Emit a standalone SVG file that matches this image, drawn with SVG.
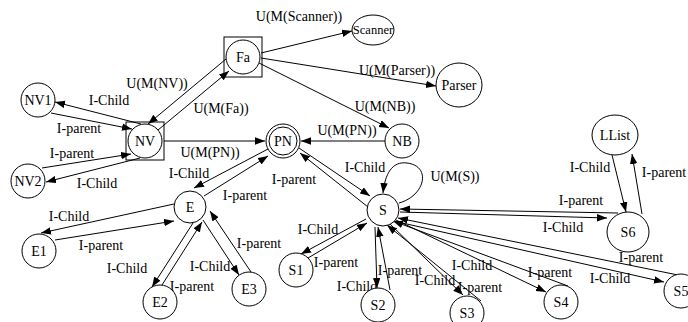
<svg xmlns="http://www.w3.org/2000/svg" width="688" height="322" viewBox="0 0 688 322" font-family="'Liberation Serif', 'DejaVu Serif', serif">
<defs>
<marker id="arr" markerWidth="10" markerHeight="8" refX="10" refY="3.75" orient="auto" markerUnits="userSpaceOnUse">
<path d="M0,0 L10,3.75 L0,7.5 z" fill="#000"/>
</marker>
<style>
.n{fill:#fff;stroke:#000;stroke-width:1}
.b{fill:none;stroke:#000;stroke-width:1}
.e{fill:none;stroke:#000;stroke-width:1;marker-end:url(#arr)}
text{font-family:'Liberation Serif','DejaVu Serif',serif;font-size:14px;fill:#000;text-anchor:middle}
</style>
</defs>
<rect width="688" height="322" fill="#fff"/>
<g id="connectors">
<path class="e" d="M226,59 L148,124"/>
<path class="e" d="M158,130 L229,71"/>
<path class="e" d="M261,53 L352,31"/>
<path class="e" d="M261,58 L436,86"/>
<path class="e" d="M259,63 L389,128"/>
<path class="e" d="M385,141 L301,141"/>
<path class="e" d="M164,141 L265,141"/>
<path class="e" d="M268,149 L194,188"/>
<path class="e" d="M204,196 L268,156"/>
<path class="e" d="M299,148 L370,196"/>
<path class="e" d="M368,207 L300,153"/>
<path class="e" d="M399,203 C425,196 432,166 407,163 C392,161 385,174 383,193"/>
<path class="e" d="M174,204 L41,233"/>
<path class="e" d="M55,240 L174,221"/>
<path class="e" d="M193,223 L152,287"/>
<path class="e" d="M162,285 L202,222"/>
<path class="e" d="M203,220 L239,275"/>
<path class="e" d="M251,272 L210,211"/>
<path class="e" d="M141,124 L55,102"/>
<path class="e" d="M51,113 L132,129"/>
<path class="e" d="M42,168 L131,154"/>
<path class="e" d="M140,158 L46,182"/>
<path class="e" d="M366,219 L301,254"/>
<path class="e" d="M308,258 L367,223"/>
<path class="e" d="M375,227 L377,288"/>
<path class="e" d="M390,290 L378,227"/>
<path class="e" d="M390,224 L463,295"/>
<path class="e" d="M481,301 L387,225"/>
<path class="e" d="M396,220 L546,292"/>
<path class="e" d="M568,286 L393,221"/>
<path class="e" d="M398,222 L664,282"/>
<path class="e" d="M678,275 L398,218"/>
<path class="e" d="M618,213 L400,209"/>
<path class="e" d="M400,212 L607,218"/>
<path class="e" d="M612,155 L626,212"/>
<path class="e" d="M642,214 L632,154"/>
</g>
<g id="labels">
<text x="157" y="88">U(M(NV))</text>
<text x="221" y="113">U(M(Fa))</text>
<text x="299" y="21">U(M(Scanner))</text>
<text x="397" y="75">U(M(Parser))</text>
<text x="385" y="111">U(M(NB))</text>
<text x="347" y="135">U(M(PN))</text>
<text x="210" y="157">U(M(PN))</text>
<text x="189" y="178">I-Child</text>
<text x="245" y="200">I-parent</text>
<text x="365" y="172">I-Child</text>
<text x="294" y="184">I-parent</text>
<text x="455" y="181">U(M(S))</text>
<text x="69" y="221">I-Child</text>
<text x="101" y="250">I-parent</text>
<text x="127" y="273">I-Child</text>
<text x="192" y="291">I-parent</text>
<text x="210" y="271">I-Child</text>
<text x="259" y="248">I-parent</text>
<text x="109" y="105">I-Child</text>
<text x="79" y="133">I-parent</text>
<text x="72" y="158">I-parent</text>
<text x="97" y="188">I-Child</text>
<text x="318" y="234">I-Child</text>
<text x="336" y="267">I-parent</text>
<text x="357" y="291">I-Child</text>
<text x="400" y="275">I-parent</text>
<text x="435" y="285">I-Child</text>
<text x="480" y="292">I-parent</text>
<text x="472" y="270">I-Child</text>
<text x="550" y="277">I-parent</text>
<text x="641" y="262">I-parent</text>
<text x="610" y="283">I-Child</text>
<text x="581" y="205">I-parent</text>
<text x="563" y="232">I-Child</text>
<text x="590" y="172">I-Child</text>
<text x="664" y="177">I-parent</text>
</g>
<g id="Fa"><rect class="b" x="224" y="37" width="38" height="40"/><circle class="n" cx="243" cy="57" r="17"/><text x="243" y="62">Fa</text></g>
<g id="Scanner"><ellipse class="n" cx="373" cy="30" rx="21" ry="15"/><text x="373" y="34" style="font-size:12.5px">Scanner</text></g>
<g id="Parser"><ellipse class="n" cx="459" cy="85" rx="23" ry="22"/><text x="459" y="90">Parser</text></g>
<g id="NB"><circle class="n" cx="402" cy="141" r="17"/><text x="402" y="146">NB</text></g>
<g id="PN"><circle class="n" cx="283" cy="141" r="17"/><circle class="n" cx="283" cy="141" r="14"/><text x="283" y="146">PN</text></g>
<g id="NV"><rect class="b" x="126" y="122" width="38" height="38"/><circle class="n" cx="145" cy="141" r="17"/><text x="145" y="146">NV</text></g>
<g id="NV1"><circle class="n" cx="38" cy="100" r="17"/><text x="38" y="105">NV1</text></g>
<g id="NV2"><circle class="n" cx="28" cy="181" r="17"/><text x="28" y="186">NV2</text></g>
<g id="E"><circle class="n" cx="190" cy="207" r="16"/><text x="190" y="212">E</text></g>
<g id="E1"><circle class="n" cx="39" cy="251" r="17"/><text x="39" y="256">E1</text></g>
<g id="E2"><circle class="n" cx="160" cy="302" r="17"/><text x="160" y="307">E2</text></g>
<g id="E3"><circle class="n" cx="249" cy="289" r="17"/><text x="249" y="294">E3</text></g>
<g id="S"><circle class="n" cx="383" cy="210" r="16"/><text x="383" y="215">S</text></g>
<g id="S1"><circle class="n" cx="296" cy="270" r="17"/><text x="296" y="275">S1</text></g>
<g id="S2"><circle class="n" cx="378" cy="305" r="17"/><text x="378" y="310">S2</text></g>
<g id="S3"><circle class="n" cx="467" cy="313" r="17"/><text x="467" y="318">S3</text></g>
<g id="S4"><circle class="n" cx="561" cy="302" r="17"/><text x="561" y="307">S4</text></g>
<g id="S5"><circle class="n" cx="681" cy="291" r="17"/><text x="681" y="296">S5</text></g>
<g id="S6"><ellipse class="n" cx="628" cy="232" rx="21" ry="20"/><text x="628" y="237">S6</text></g>
<g id="LList"><ellipse class="n" cx="615" cy="135" rx="23" ry="20"/><text x="615" y="140">LList</text></g>
</svg>
